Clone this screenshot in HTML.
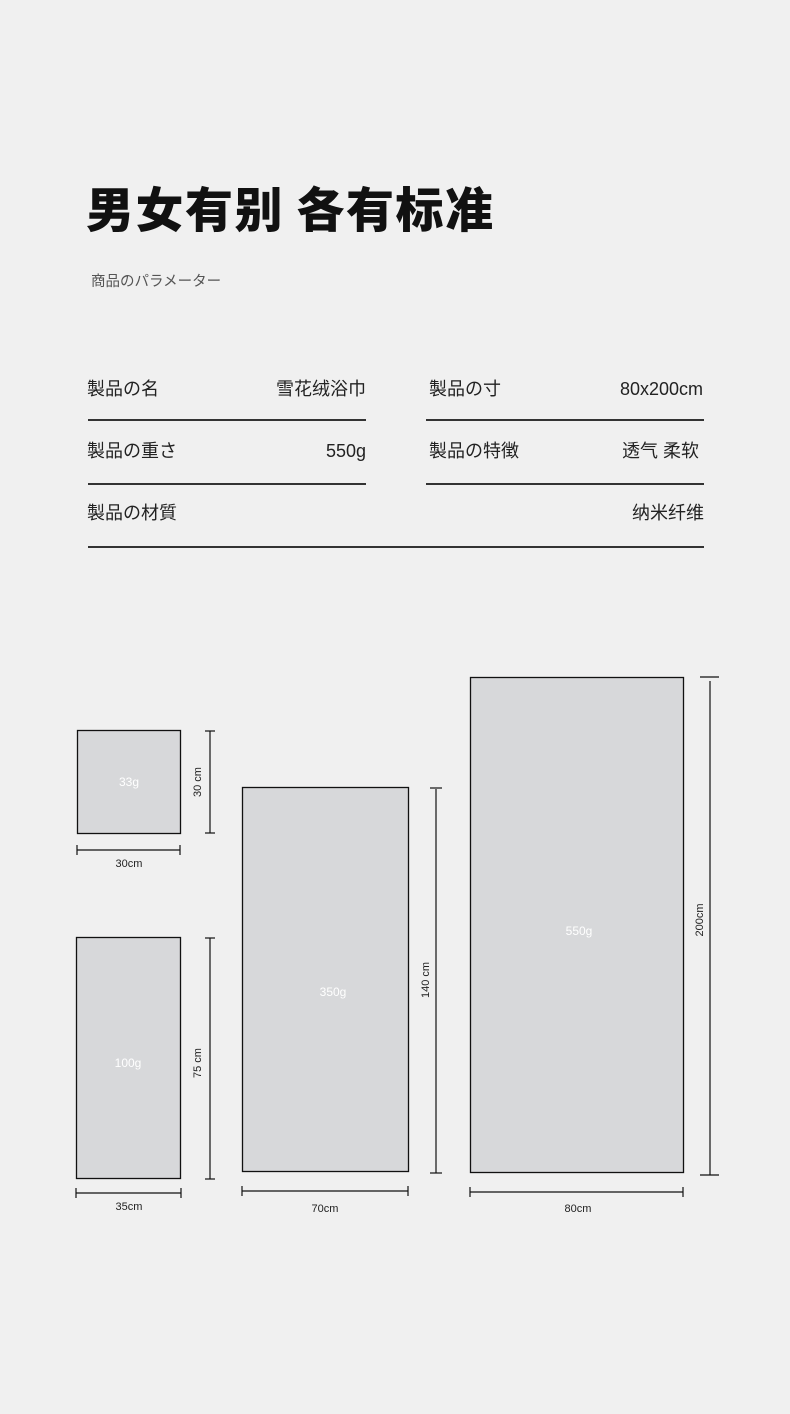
<!DOCTYPE html>
<html><head><meta charset="utf-8"><style>
html,body{margin:0;padding:0;background:#f0f0f0;}
svg{display:block}
text{font-family:"Liberation Sans","Noto Sans CJK SC",sans-serif;}
</style></head><body>
<svg width="790" height="1414" viewBox="0 0 790 1414" xmlns="http://www.w3.org/2000/svg">
<rect width="790" height="1414" fill="#f0f0f0"/>
<text x="86" y="227" font-size="48" fill="#111" letter-spacing="1.5" style="font-family:'Noto Sans CJK SC',sans-serif;font-weight:900">男女有别 各有标准</text>
<text x="91" y="286" font-size="14.5" fill="#555" style="font-family:'Noto Sans CJK JP',sans-serif">商品のパラメーター</text>
<g font-size="18" fill="#222" style="font-family:'Liberation Sans','Noto Sans CJK JP',sans-serif">
<text x="87" y="395">製品の名</text>
<text x="366" y="395" text-anchor="end">雪花绒浴巾</text>
<text x="429" y="395">製品の寸</text>
<text x="703" y="395" text-anchor="end">80x200cm</text>
<text x="87" y="457">製品の重さ</text>
<text x="366" y="457" text-anchor="end">550g</text>
<text x="429" y="457">製品の特徴</text>
<text x="699" y="457" text-anchor="end">透气 柔软</text>
<text x="87" y="519">製品の材質</text>
<text x="704" y="519" text-anchor="end">纳米纤维</text>
</g>
<g stroke="#333" stroke-width="2">
<line x1="88" y1="420" x2="366" y2="420"/>
<line x1="426" y1="420" x2="704" y2="420"/>
<line x1="88" y1="484" x2="366" y2="484"/>
<line x1="426" y1="484" x2="704" y2="484"/>
<line x1="88" y1="547" x2="704" y2="547"/>
</g>
<g fill="#d7d8da" stroke="#111" stroke-width="1.3">
<rect x="77.5" y="730.5" width="103" height="103"/>
<rect x="76.5" y="937.5" width="104" height="241"/>
<rect x="242.5" y="787.5" width="166" height="384"/>
<rect x="470.5" y="677.5" width="213" height="495"/>
</g>
<g fill="#fff" font-size="12" text-anchor="middle">
<text x="129" y="786">33g</text>
<text x="128" y="1067">100g</text>
<text x="333" y="996">350g</text>
<text x="579" y="935">550g</text>
</g>
<g stroke="#111" stroke-width="1.2">
<line x1="210" y1="731" x2="210" y2="833"/><line x1="205" y1="731" x2="215" y2="731"/><line x1="205" y1="833" x2="215" y2="833"/>
<line x1="77" y1="850" x2="180" y2="850"/><line x1="77" y1="845" x2="77" y2="855"/><line x1="180" y1="845" x2="180" y2="855"/>
<line x1="210" y1="938" x2="210" y2="1179"/><line x1="205" y1="938" x2="215" y2="938"/><line x1="205" y1="1179" x2="215" y2="1179"/>
<line x1="76" y1="1193" x2="181" y2="1193"/><line x1="76" y1="1188" x2="76" y2="1198"/><line x1="181" y1="1188" x2="181" y2="1198"/>
<line x1="436" y1="789" x2="436" y2="1173"/><line x1="430" y1="788" x2="442" y2="788"/><line x1="430" y1="1173" x2="442" y2="1173"/>
<line x1="242" y1="1191" x2="408" y2="1191"/><line x1="242" y1="1186" x2="242" y2="1196"/><line x1="408" y1="1186" x2="408" y2="1196"/>
<line x1="710" y1="681" x2="710" y2="1175"/><line x1="700" y1="677" x2="719" y2="677"/><line x1="700" y1="1175" x2="719" y2="1175"/>
<line x1="470" y1="1192" x2="683" y2="1192"/><line x1="470" y1="1187" x2="470" y2="1197"/><line x1="683" y1="1187" x2="683" y2="1197"/>
</g>
<g fill="#222" font-size="11" text-anchor="middle">
<text x="129" y="867">30cm</text>
<text x="129" y="1210">35cm</text>
<text x="325" y="1212">70cm</text>
<text x="578" y="1212">80cm</text>
<text transform="translate(201,782) rotate(-90)">30 cm</text>
<text transform="translate(201,1063) rotate(-90)">75 cm</text>
<text transform="translate(429,980) rotate(-90)">140 cm</text>
<text transform="translate(703,920) rotate(-90)">200cm</text>
</g>
</svg>
</body></html>
